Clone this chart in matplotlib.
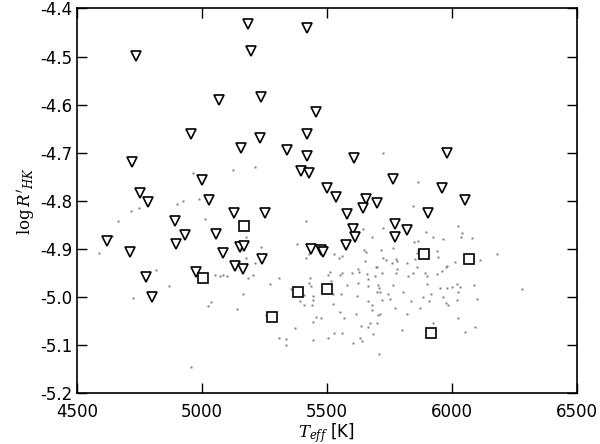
import numpy as np
import matplotlib
matplotlib.use("Agg")
import matplotlib.pyplot as plt

plt.rcParams['mathtext.fontset'] = 'dejavuserif'

# upper limits (open down-triangles)
tri_teff = [4737, 5184, 5422, 5196, 5069, 5238, 5456, 4956, 5422, 5232,
            5157, 5341, 5420, 5609, 5980, 4720, 5397, 5430, 5003, 5767,
            5500, 5960, 4751, 5539, 5657, 4784, 5028, 6053, 5701, 5646,
            5131, 5253, 5581, 5907, 4894, 5773, 5607, 5823, 5057, 4931,
            5613, 5773, 4620, 4897, 5576, 5153, 5168, 5436, 5476, 5484,
            4711, 5084, 5242, 5133, 5164, 4975, 4775, 4800]
tri_logr = [-4.499, -4.433, -4.440, -4.488, -4.591, -4.584, -4.616, -4.660, -4.660, -4.670,
            -4.691, -4.695, -4.706, -4.711, -4.700, -4.720, -4.738, -4.742, -4.757, -4.755,
            -4.774, -4.773, -4.783, -4.792, -4.796, -4.803, -4.798, -4.799, -4.805, -4.814,
            -4.826, -4.826, -4.828, -4.826, -4.842, -4.848, -4.859, -4.860, -4.868, -4.871,
            -4.875, -4.876, -4.883, -4.889, -4.892, -4.896, -4.894, -4.899, -4.902, -4.907,
            -4.906, -4.908, -4.920, -4.936, -4.942, -4.948, -4.958, -4.999]

# open squares
sq_teff = [5169, 5004, 5281, 5385, 5501, 5891, 6070, 5917]
sq_logr = [-4.852, -4.960, -5.042, -4.990, -4.984, -4.910, -4.921, -5.075]

# comparison sample (small grey dots)
dot_teff = [4966, 5126, 4900, 4924, 4990, 4718, 4748, 5014, 4666, 4641,
            4590, 4817, 4868, 4724, 5054, 5073, 5084, 5102, 5037, 5025,
            4958, 5213, 5417, 5646, 5680, 5177, 5237, 5380, 5649, 5657,
            5177, 5417, 5428, 5530, 5560, 5550, 5655, 5698, 5627, 5213,
            5204, 5187, 5273, 5308, 5164, 5142, 5433, 5430, 5437, 5409,
            5446, 5393, 5409, 5444, 5441, 5356, 5257, 5457, 5476, 5446,
            5373, 5310, 5337, 5337, 5446, 5513, 5506, 5518, 5526, 5556,
            5526, 5553, 5569, 5582, 5553, 5560, 5600, 5631, 5624, 5620,
            5617, 5636, 5663, 5667, 5667, 5693, 5700, 5709, 5667, 5680,
            5683, 5707, 5673, 5700, 5667, 5684, 5529, 5560, 5506, 5633,
            5641, 5604, 5710, 5236, 5727, 5866, 5847, 5726, 5896, 6024,
            6043, 6037, 6083, 5967, 5927, 5866, 5851, 5767, 5717, 5727,
            5736, 5776, 5780, 5760, 5820, 5860, 5866, 5853, 5940, 5947,
            6013, 6113, 6180, 5980, 5862, 5780, 5700, 5722, 5777, 5827,
            5847, 5893, 5900, 5943, 5963, 5977, 5706, 5713, 5767, 5747,
            5720, 5753, 5804, 5837, 5773, 5713, 5820, 5873, 5800, 5903,
            5887, 5917, 5910, 5927, 5953, 5980, 6003, 6020, 6033, 6024,
            5967, 5977, 5987, 6020, 6027, 6090, 6100, 6053, 6093, 6280]
dot_logr = [-4.743, -4.735, -4.807, -4.801, -4.796, -4.821, -4.815, -4.837, -4.841, -4.873,
            -4.909, -4.944, -4.976, -5.001, -4.954, -4.956, -4.954, -4.957, -5.010, -5.019,
            -5.146, -4.729, -4.842, -4.859, -4.876, -4.876, -4.896, -4.889, -4.901, -4.907,
            -4.918, -4.918, -4.911, -4.911, -4.914, -4.918, -4.925, -4.937, -4.941, -4.930,
            -4.954, -4.961, -4.973, -4.961, -4.993, -5.024, -4.961, -4.970, -4.977, -4.996,
            -4.998, -5.008, -5.017, -5.006, -5.017, -4.984, -5.038, -5.041, -5.044, -5.052,
            -5.065, -5.085, -5.087, -5.100, -5.090, -4.948, -4.954, -4.966, -4.993, -4.993,
            -5.015, -5.031, -5.044, -4.975, -4.954, -4.950, -4.950, -4.948, -4.970, -4.998,
            -5.034, -5.061, -4.951, -4.963, -4.977, -4.957, -4.989, -4.982, -5.008, -5.017,
            -5.026, -5.038, -5.054, -5.054, -5.062, -5.077, -5.074, -5.074, -5.084, -5.084,
            -5.091, -5.096, -5.119, -4.915, -4.701, -4.761, -4.811, -4.857, -4.864, -4.852,
            -4.866, -4.875, -4.878, -4.880, -4.876, -4.883, -4.885, -4.897, -4.902, -4.918,
            -4.922, -4.920, -4.925, -4.930, -4.930, -4.909, -4.902, -4.920, -4.904, -4.916,
            -4.927, -4.922, -4.911, -4.936, -4.938, -4.941, -4.938, -4.950, -4.950, -4.957,
            -4.950, -4.950, -4.957, -4.951, -4.946, -4.937, -4.975, -4.989, -4.975, -4.993,
            -5.005, -5.003, -4.989, -5.008, -5.022, -5.036, -5.034, -5.022, -5.069, -4.973,
            -5.000, -4.993, -5.008, -5.054, -4.981, -4.982, -4.979, -4.973, -4.979, -4.990,
            -5.000, -5.013, -5.017, -5.005, -5.043, -4.975, -5.004, -5.072, -5.063, -4.984]

fig = plt.figure(figsize=(6, 4.44), dpi=100)
ax = fig.add_axes([0.128, 0.114, 0.833, 0.867])

ax.plot(dot_teff, dot_logr, 's', color='#808080', ms=2.0, mec='none')
ax.plot(tri_teff, tri_logr, 'v', mfc='white', mec='black', ms=7.5, mew=1.2)
ax.plot(sq_teff, sq_logr, 's', mfc='white', mec='black', ms=7, mew=1.2)

ax.set_xlim(4500, 6500)
ax.set_ylim(-5.2, -4.4)
ax.set_xticks([4500, 5000, 5500, 6000, 6500])
ax.set_yticks(np.arange(-5.2, -4.35, 0.1))
ax.set_yticklabels(['%.1f' % v for v in np.arange(-5.2, -4.35, 0.1)])
ax.tick_params(direction='in', length=7, width=1, top=True, right=True, labelsize=12)
ax.tick_params(axis='x', pad=7)
ax.tick_params(axis='y', pad=3)
for sp in ax.spines.values():
    sp.set_linewidth(1.2)

ax.set_xlabel(r'$T_{eff}$ [K]', fontsize=12, labelpad=0)
ax.set_ylabel(r"$\log R'_{HK}$", fontsize=12, labelpad=2)

fig.savefig('out.png', dpi=100)
